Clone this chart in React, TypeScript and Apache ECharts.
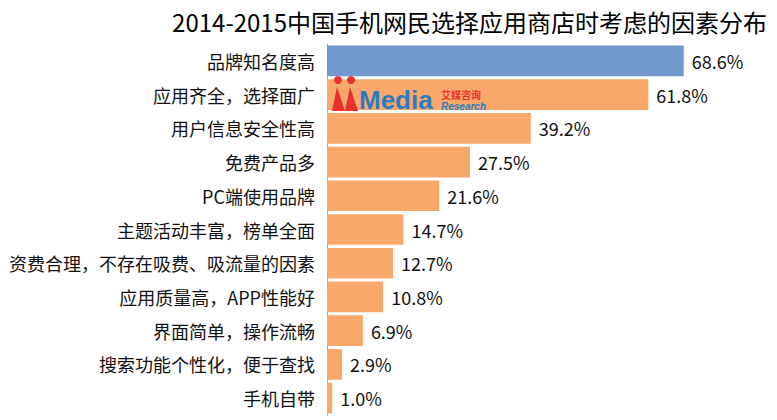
import React, { useEffect, useRef } from "react";
import * as echarts from "echarts";

const titleText = "2014-2015中国手机网民选择应用商店时考虑的因素分布";
const categories = [
  "品牌知名度高",
  "应用齐全，选择面广",
  "用户信息安全性高",
  "免费产品多",
  "PC端使用品牌",
  "主题活动丰富，榜单全面",
  "资费合理，不存在吸费、吸流量的因素",
  "应用质量高，APP性能好",
  "界面简单，操作流畅",
  "搜索功能个性化，便于查找",
  "手机自带",
];
const values = [68.6, 61.8, 39.2, 27.5, 21.6, 14.7, 12.7, 10.8, 6.9, 2.9, 1.0];
const highlightIndex = 0;

const BLUE = "#7299CD";
const ORANGE = "#F8A86A";
const FONT = "'Noto Sans CJK SC', 'Noto Sans', sans-serif";

export default function App() {
  const ref = useRef<HTMLDivElement>(null);
  useEffect(() => {
    document.body.style.margin = "0";
    const chart = echarts.init(ref.current!, null, { renderer: "svg" });
    chart.setOption({
      animation: false,
      backgroundColor: "#ffffff",
      textStyle: { fontFamily: FONT },
      title: {
        text: titleText,
        right: 5,
        top: 4,
        textStyle: { fontSize: 24, fontWeight: "normal", color: "#000", fontFamily: FONT },
      },
      grid: { left: 327, right: 34, top: 44, bottom: 5, containLabel: false },
      xAxis: {
        type: "value",
        min: 0,
        max: 80,
        show: false,
      },
      yAxis: {
        type: "category",
        data: categories,
        inverse: true,
        axisLine: { show: true, lineStyle: { color: "#A6A6A6", width: 1 } },
        axisTick: { show: false },
        axisLabel: { fontSize: 18, color: "#111", margin: 12, fontFamily: FONT },
      },
      series: [
        {
          type: "bar",
          data: values.map((v, i) => ({
            value: v,
            itemStyle: { color: i === highlightIndex ? BLUE : ORANGE },
          })),
          barCategoryGap: "9%",
          label: {
            show: true,
            position: "right",
            distance: 8,
            formatter: (p: any) => p.value.toFixed(1) + "%",
            fontSize: 18,
            color: "#111",
            fontFamily: FONT,
          },
        },
      ],
      graphic: [
        {
          type: "group",
          silent: true,
          z: 100,
          children: [
            { type: "circle", z: 100, shape: { cx: 338, cy: 80, r: 4 }, style: { fill: "#E8302E" } },
            { type: "circle", z: 100, shape: { cx: 351, cy: 80, r: 4 }, style: { fill: "#E8302E" } },
            {
              type: "polygon",
              z: 100,
              shape: { points: [[337, 87], [345, 111], [332, 111]] },
              style: { fill: "#E8302E" },
            },
            {
              type: "polygon",
              z: 100,
              shape: { points: [[350, 87], [358, 111], [345, 111]] },
              style: { fill: "#E8302E" },
            },
            {
              type: "text",
              z: 100,
              x: 359,
              y: 87,
              style: {
                text: "Media",
                fontSize: 26,
                fontWeight: "bold",
                fill: "#2C7BC2",
                fontFamily: "'Liberation Sans', sans-serif",
              },
            },
            {
              type: "text",
              z: 100,
              x: 441,
              y: 89,
              style: {
                text: "艾媒咨询",
                fontSize: 10,
                fontWeight: "bold",
                fill: "#E8302E",
                fontFamily: FONT,
              },
            },
            {
              type: "text",
              z: 100,
              x: 441,
              y: 101,
              style: {
                text: "Research",
                fontSize: 10,
                fontWeight: "bold",
                fontStyle: "italic",
                fill: "#2C7BC2",
                fontFamily: "'Liberation Sans', sans-serif",
              },
            },
          ],
        },
      ],
    });
    return () => chart.dispose();
  }, []);
  return <div ref={ref} style={{ width: 777, height: 420 }} />;
}
